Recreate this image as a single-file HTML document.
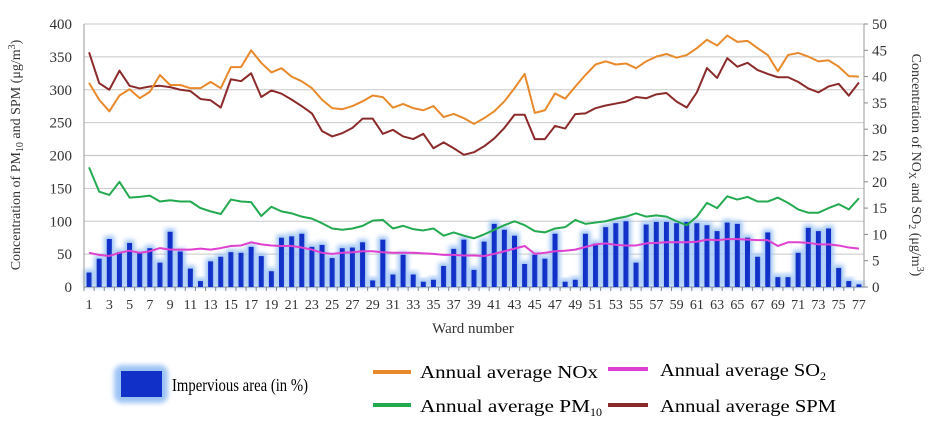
<!DOCTYPE html>
<html><head><meta charset="utf-8"><style>
body{margin:0;background:#fff}
svg{display:block;font-family:"Liberation Serif",serif}
</style></head><body>
<svg id="chart" width="931" height="425" viewBox="0 0 931 425">
<defs><filter id="glow" x="-100%" y="-20%" width="300%" height="140%"><feGaussianBlur stdDeviation="2.5"/></filter></defs>
<g id="grid"></g><g id="bars"></g><g id="lines"></g><g id="axes"></g>
<text x="20" y="155" transform="rotate(-90 20 155)" text-anchor="middle" font-size="14" fill="#333">Concentration of PM<tspan font-size="10" dy="3">10</tspan><tspan dy="-3"> and SPM (μg/m</tspan><tspan font-size="10" dy="-5">3</tspan><tspan dy="5">)</tspan></text>
<text x="912" y="165" transform="rotate(90 912 165)" text-anchor="middle" font-size="14" fill="#333">Concentration of NO<tspan font-size="10" dy="3">X</tspan><tspan dy="-3"> and SO</tspan><tspan font-size="10" dy="3">2</tspan><tspan dy="-3"> (μg/m</tspan><tspan font-size="10" dy="-5">3</tspan><tspan dy="5">)</tspan></text>
<text x="473" y="333" text-anchor="middle" font-size="15" fill="#333">Ward number</text>
<g>
<rect x="114" y="365" width="54" height="38" rx="8" fill="#9cc3f5" filter="url(#glow)"/>
<rect x="121" y="371" width="41" height="26" fill="#1030c8"/>
<text x="172" y="391" font-size="18" textLength="136" lengthAdjust="spacingAndGlyphs">Impervious area (in %)</text>
<rect x="373" y="370" width="38" height="4" fill="#e8892c"/>
<text x="420" y="378" font-size="18" textLength="178" lengthAdjust="spacingAndGlyphs">Annual average NOx</text>
<rect x="373" y="403" width="38" height="4" fill="#23a94f"/>
<text x="420" y="412" font-size="18"><tspan textLength="170" lengthAdjust="spacingAndGlyphs">Annual average PM</tspan><tspan font-size="12" dy="4">10</tspan></text>
<rect x="608" y="367" width="40" height="4" fill="#e040d0"/>
<text x="660" y="376" font-size="18"><tspan textLength="160" lengthAdjust="spacingAndGlyphs">Annual average SO</tspan><tspan font-size="12" dy="4">2</tspan></text>
<rect x="608" y="403" width="40" height="4" fill="#8b2a2a"/>
<text x="660" y="412" font-size="18" textLength="176" lengthAdjust="spacingAndGlyphs">Annual average SPM</text>
</g>
</svg>
<script>
const wards = Array.from({length:77},(_,i)=>i+1);
const leftTicks = [0,50,100,150,200,250,300,350,400];
const rightTicks = [0,5,10,15,20,25,30,35,40,45,50];
const impervious = [22,43,73,53,67,52,59,37,84,54,28,9,39,46,53,52,61,47,24,75,77,81,61,64,44,59,60,68,10,72,19,49,19,8,11,32,58,72,26,69,96,87,78,35,49,43,81,8,11,81,66,91,97,100,37,95,99,99,97,99,97,94,85,98,96,75,46,83,15,15,52,90,85,89,29,9,4];
const pm10 = [182,145,140,160,136,137,139,130,132,130,130,120,115,111,133,130,129,108,122,115,112,107,104,97,89,87,89,93,101,102,89,93,88,86,89,78,83,78,74,80,87,94,100,94,85,83,89,91,102,96,98,100,104,107,112,107,109,107,100,94,107,128,120,138,133,137,130,130,136,128,118,113,113,120,126,118,135];
const spm = [357,310,300,329,306,302,305,306,304,300,298,286,284,273,316,313,325,289,299,294,285,275,264,237,229,234,242,256,256,233,239,229,225,233,211,220,211,201,205,214,226,242,262,262,225,225,245,241,263,264,272,276,279,282,289,287,293,295,282,273,296,333,318,348,335,341,330,324,319,319,312,302,296,305,309,291,311];
const nox = [38.8,35.6,33.4,36.4,37.6,35.9,37.1,40.3,38.4,38.4,37.8,37.8,39,37.8,41.8,41.8,45,42.6,40.8,41.6,40,39.1,37.8,35.6,34,33.8,34.4,35.3,36.4,36.1,34.1,34.8,34,33.6,34.4,32.3,32.9,32.1,31,32.1,33.4,35.3,37.8,40.5,33.1,33.6,36.8,35.8,38.1,40.3,42.3,42.9,42.3,42.5,41.6,42.9,43.8,44.3,43.6,44.1,45.4,47,45.9,47.8,46.6,46.8,45.4,44.1,41,44.1,44.5,43.8,42.9,43.1,41.9,40.1,40];
const so2 = [6.5,6.1,5.9,6.5,6.9,6.5,6.8,7.4,7.1,7.1,7.1,7.3,7.1,7.4,7.8,7.9,8.5,8.1,7.9,7.8,7.8,7.5,7.1,6.5,6.3,6.5,6.6,6.8,6.8,6.6,6.5,6.5,6.5,6.4,6.3,6.1,6.1,6,6,5.9,6.3,6.8,7.3,7.8,6.3,6.5,6.8,6.9,7.1,7.6,8.1,8.3,8,7.9,7.9,8.3,8.4,8.5,8.5,8.5,8.6,9,8.9,9.1,9.1,9,8.9,8.9,7.8,8.5,8.5,8.4,8.1,8.1,7.9,7.5,7.3];

const NS='http://www.w3.org/2000/svg';
const X0=84,X1=864,Y0=287,Y1=24;
const step=(X1-X0)/wards.length;
const xs=w=>X0+step*(w-0.5);
const yl=v=>Y0-(v/400)*(Y0-Y1);
const yr=v=>Y0-(v/50)*(Y0-Y1);
function mk(tag,attrs,parent){const e=document.createElementNS(NS,tag);for(const k in attrs)e.setAttribute(k,attrs[k]);document.getElementById(parent).appendChild(e);return e;}

leftTicks.forEach(t=>{
  const g=mk('line',{x1:X0,x2:X1,y1:yl(t),y2:yl(t),stroke:t===0?'#888':'#c8c8c8','stroke-width':t===200||t===0?1.3:1},'grid');
  
  
  const l=mk('text',{x:72,y:yl(t)+5,'text-anchor':'end','font-size':15,fill:'#333'},'axes');
  l.textContent=t;
  
  
});
rightTicks.forEach(t=>{
  const l=mk('text',{x:872,y:yr(t)+5,'font-size':15,fill:'#333'},'axes');
  l.textContent=t;
  
  
  const m=mk('line',{x1:X1,x2:X1+4,y1:yr(t),y2:yr(t),stroke:'#888'},'axes');
  
  
});
[[X0,X0],[X1,X1]].forEach(p=>{
  const a=mk('line',{x1:p[0],x2:p[1],y1:Y1,y2:Y0,stroke:'#999'},'axes');
  
  
});
wards.forEach((w,i)=>{
  const x=xs(w);
  const t=mk('line',{x1:X0+step*i,x2:X0+step*i,y1:Y0,y2:Y0+4,stroke:'#888'},'axes');
  
  
  if(w%2===1){
    const l=mk('text',{x:x,y:309,'text-anchor':'middle','font-size':14,fill:'#333'},'axes');
    l.textContent=w;
    
    
  }
  const v=impervious[i];
  const gl=mk('rect',{x:x-5,y:yl(v)-3,width:10,height:Y0-yl(v)+3,fill:'#9cc3f5',filter:'url(#glow)'},'bars');
  
  
  const b=mk('rect',{x:x-2.5,y:yl(v),width:5,height:Y0-yl(v),fill:'#1030c8'},'bars');
  
  
});
function line(arr,yf,color,name){
  const p=mk('polyline',{points:arr.map((v,i)=>xs(wards[i])+','+yf(v)).join(' '),fill:'none',stroke:color,'stroke-width':2,'stroke-linejoin':'round'},'lines');
  
  
}
line(so2,yr,'#e040d0','so2-line');
line(pm10,yl,'#23a94f','pm10-line');
line(spm,yl,'#8b2a2a','spm-line');
line(nox,yr,'#e8892c','nox-line');
</script>
</body></html>
